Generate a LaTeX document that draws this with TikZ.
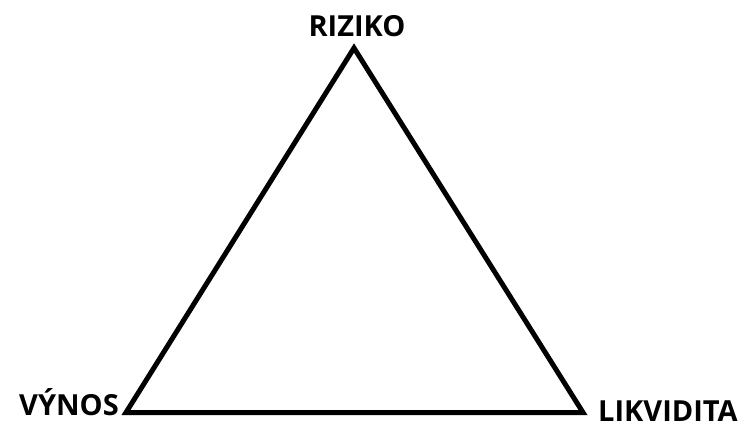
\documentclass[tikz,border=0pt]{standalone}
\usepackage{fontspec}
\setmainfont{Open Sans}
\usetikzlibrary{positioning}

\begin{document}
\begin{tikzpicture}[
    x=1pt, y=-1pt,
    cornerLab/.style={font=\bfseries\fontsize{29}{29}\selectfont, inner sep=0pt},
    sideLine/.style={line width=5pt, line join=miter, draw=black}
]

    \useasboundingbox (0,0) rectangle (742,425);

    % ---------------- corners ----------------
    \coordinate (apex) at (354, 48);
    \coordinate (lowLeft) at (126, 412.5);
    \coordinate (lowRight) at (583, 412.5);

    % ---------------- triangle ----------------
    \draw[sideLine] (apex) -- (lowLeft) -- (lowRight) -- cycle;

    % ---------------- labels ----------------
    \node[cornerLab, anchor=base] (riziko) at (357, 37) {RIZIKO};
    \node[cornerLab, anchor=base east] (vynos) at (119, 415) {VÝNOS};
    \node[cornerLab, anchor=base west] (likvidita) at (598, 421) {LIKVIDITA};

\end{tikzpicture}
\end{document}
